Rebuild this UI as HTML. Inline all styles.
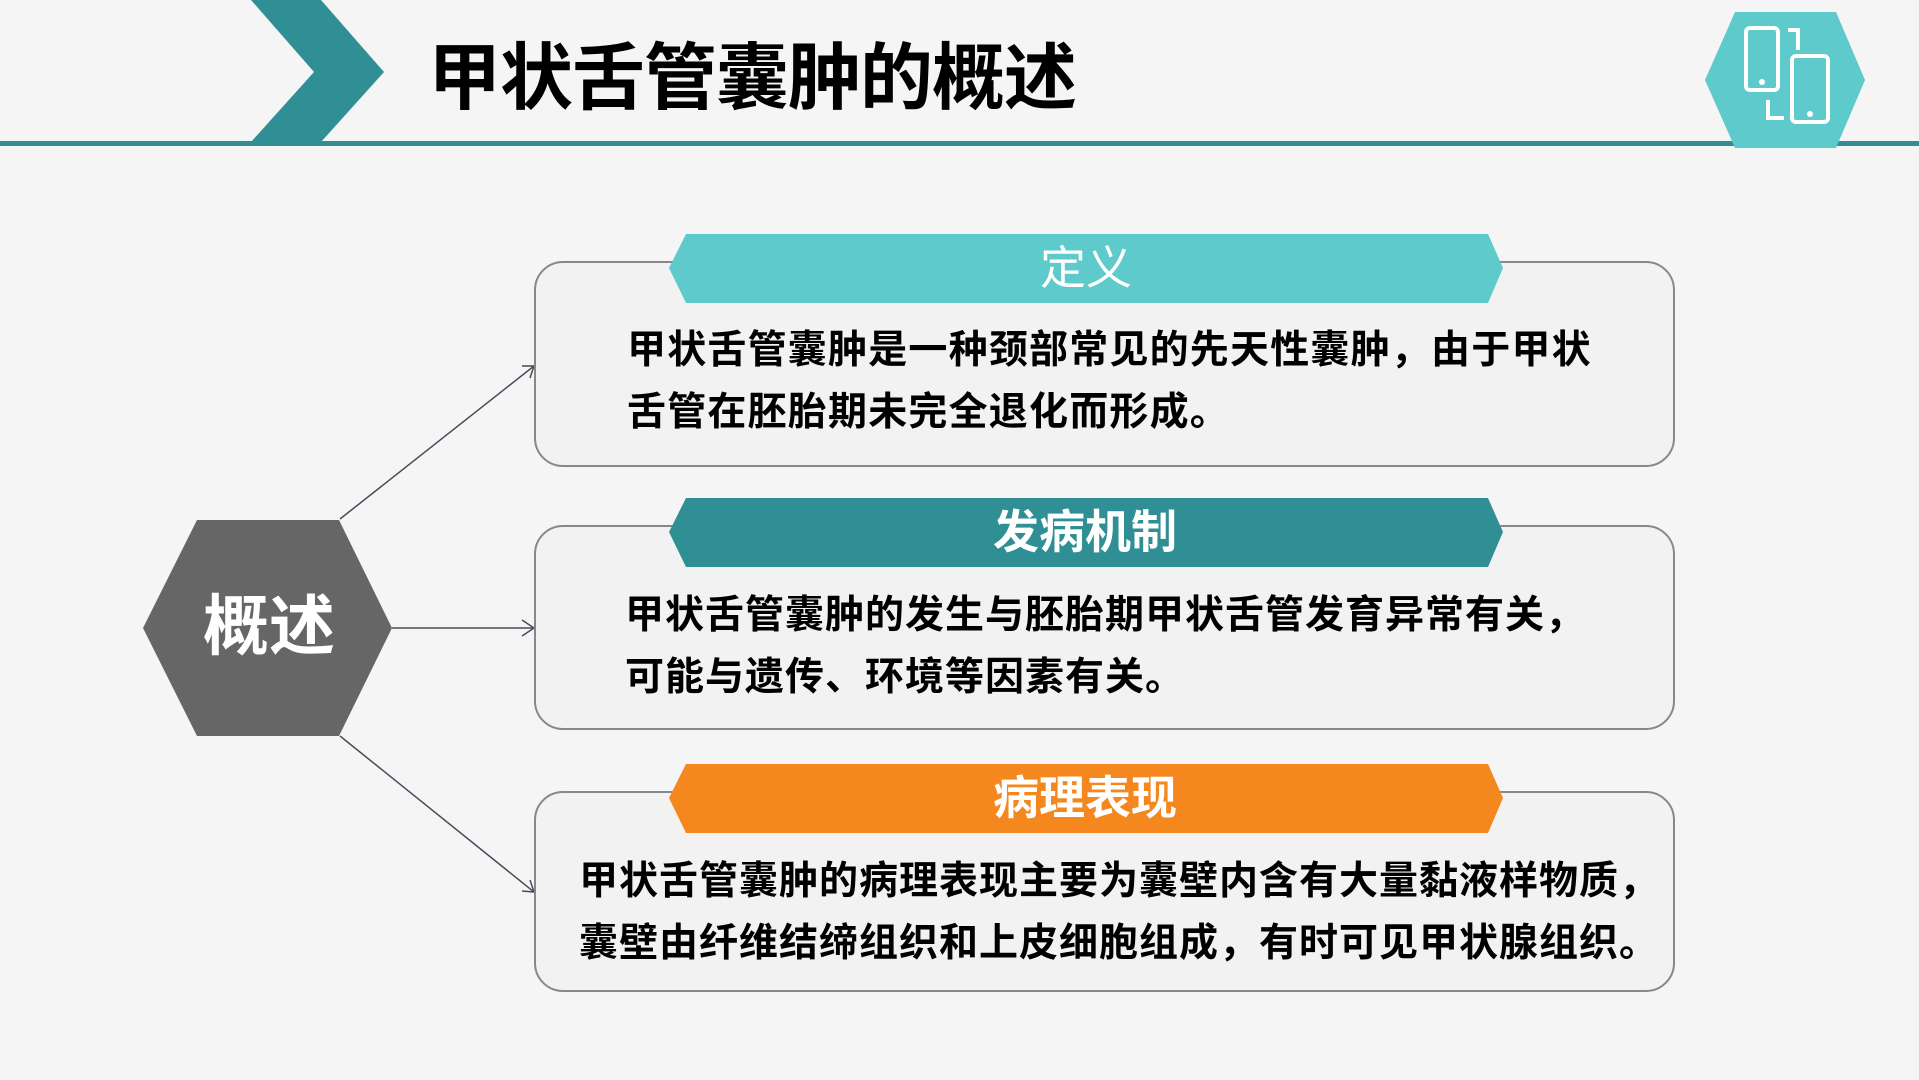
<!DOCTYPE html>
<html><head><meta charset="utf-8"><style>
body{margin:0;width:1919px;height:1080px;background:#f5f5f5;overflow:hidden;position:relative;font-family:"Liberation Sans","Noto Sans CJK SC",sans-serif}
.t{position:absolute;white-space:nowrap;font-weight:700;color:#000}
svg{position:absolute;left:0;top:0}
</style></head><body>
<svg width="1919" height="1080">
<rect x="0" y="141" width="1919" height="5" fill="#2f8f94"/>
<polygon points="251,0 321,0 384,72 321,142 251,142 314,72" fill="#2f8f94"/>
<polygon points="1735,12 1836,12 1865,80 1836,148 1735,148 1705,80" fill="#5ecacb"/>
<g fill="none" stroke="#fff" stroke-width="4">
<rect x="1746" y="28" width="32" height="62" rx="4"/>
<rect x="1792" y="56" width="36" height="66" rx="4"/>
<path d="M1788,30 h10 v20 M1768,100 v18 h16"/>
</g>
<circle cx="1762" cy="82" r="3" fill="#fff"/><circle cx="1810" cy="114" r="3" fill="#fff"/>
<polygon points="143,628 197,520 339,520 392,628 339,736 197,736" fill="#666"/>
<g stroke="#4a4a5a" stroke-width="1.5" fill="none">
<line x1="340" y1="519" x2="534" y2="366"/><polyline points="522,366 534,366 530,378"/>
<line x1="392" y1="628" x2="534" y2="628"/><polyline points="522,620 534,628 522,636"/>
<line x1="340" y1="736" x2="534" y2="892"/><polyline points="530,880 534,892 522,891"/>
</g>
<g fill="#f2f2f2" stroke="#888" stroke-width="2">
<rect x="535" y="262" width="1139" height="204" rx="28"/>
<rect x="535" y="526" width="1139" height="203" rx="28"/>
<rect x="535" y="792" width="1139" height="199" rx="28"/>
</g>
<polygon points="669,268 686,234 1488,234 1503,268 1488,303 686,303" fill="#5ecacb"/>
<polygon points="669,532 686,498 1488,498 1503,532 1488,567 686,567" fill="#2f8f94"/>
<polygon points="669,798 686,764 1488,764 1503,798 1488,833 686,833" fill="#f5871f"/>
</svg>
<div class="t" style="left:428px;top:34px;font-size:73px;line-height:90px;letter-spacing:-1px">甲状舌管囊肿的概述</div>
<div class="t" style="left:203px;top:586px;font-size:66px;line-height:80px;color:#fff">概述</div>
<div class="t" style="left:1040px;top:240px;font-size:46px;line-height:56px;color:#fff;font-weight:400">定义</div>
<div class="t" style="left:993px;top:504px;font-size:46px;line-height:56px;color:#fff">发病机制</div>
<div class="t" style="left:993px;top:770px;font-size:46px;line-height:56px;color:#fff">病理表现</div>
<div class="t" style="left:627px;top:320px;font-size:39px;line-height:62px;letter-spacing:1.2px">甲状舌管囊肿是一种颈部常见的先天性囊肿，由于甲状<br>舌管在胚胎期未完全退化而形成。</div>
<div class="t" style="left:625px;top:585px;font-size:39px;line-height:62px;letter-spacing:1px">甲状舌管囊肿的发生与胚胎期甲状舌管发育异常有关，<br>可能与遗传、环境等因素有关。</div>
<div class="t" style="left:579px;top:851px;font-size:39px;line-height:62px;letter-spacing:1px">甲状舌管囊肿的病理表现主要为囊壁内含有大量黏液样物质，<br>囊壁由纤维结缔组织和上皮细胞组成，有时可见甲状腺组织。</div>
</body></html>
